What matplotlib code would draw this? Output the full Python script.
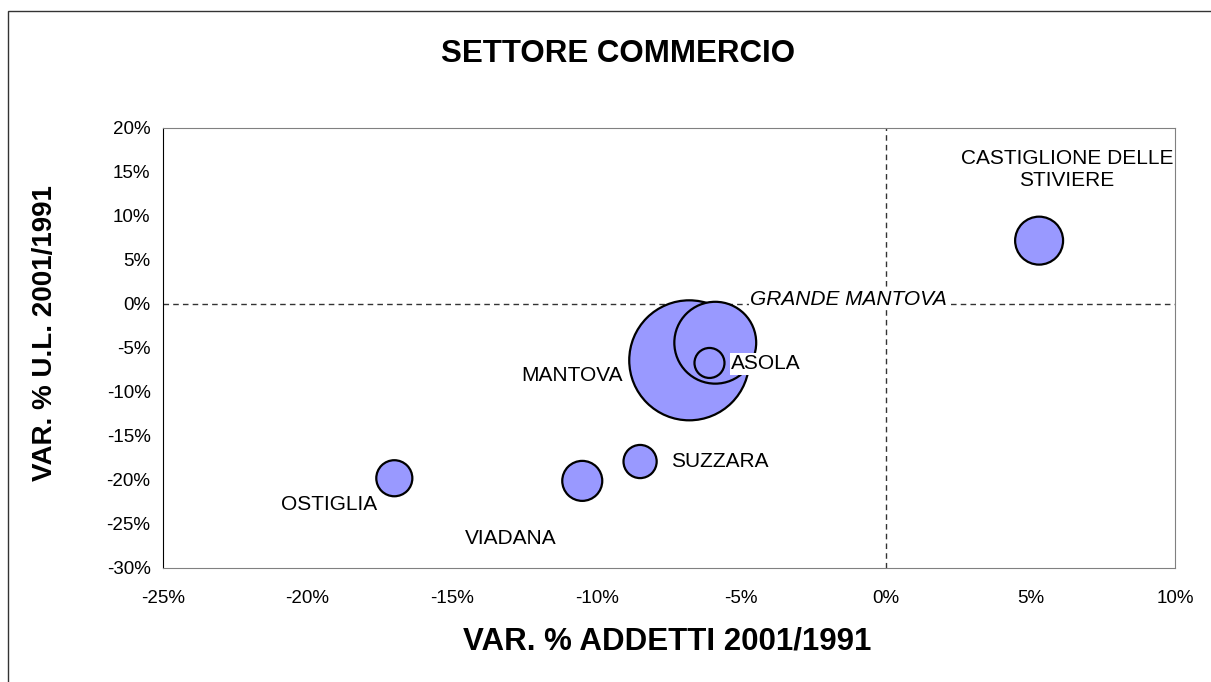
import matplotlib.pyplot as plt
from matplotlib.patches import Rectangle
from matplotlib.ticker import FuncFormatter

plt.rcParams['font.family'] = ['Liberation Sans', 'DejaVu Sans']

# dati (var. % addetti, var. % unita' locali, dimensione bolla)
comuni = ['MANTOVA', 'GRANDE MANTOVA', 'ASOLA', 'CASTIGLIONE DELLE\nSTIVIERE',
          'OSTIGLIA', 'VIADANA', 'SUZZARA']
var_addetti = [-6.8, -5.9, -6.1, 5.3, -17.0, -10.5, -8.5]
var_ul = [-6.4, -4.4, -6.7, 7.2, -19.8, -20.1, -17.9]
dimensione = [144, 67, 9, 23, 13, 16, 11]

# posizione delle etichette (coordinate dati)
lab_x = [-9.1, -4.7, -5.35, 6.27, -19.26, -12.96, -7.43]
lab_y = [-8.1, 0.55, -6.8, 15.3, -22.8, -26.6, -17.95]
lab_ha = ['right', 'left', 'left', 'center', 'center', 'center', 'left']

fig = plt.figure(figsize=(12.11, 6.82), dpi=100)
ax = fig.add_axes([163/1211, 1 - 568/682, (1175-163)/1211, (568-128)/682])

ax.axhline(0, color='#333333', lw=1, ls=(0, (4, 3)), zorder=1)
ax.axvline(0, color='#333333', lw=1, ls=(0, (4, 3)), zorder=1)

ax.scatter(var_addetti, var_ul, s=[d * 51.84 for d in dimensione],
           c='#9999FF', edgecolors='black', linewidths=1.6, zorder=3)

for i in range(len(comuni)):
    bbox = None
    if comuni[i] in ('GRANDE MANTOVA', 'ASOLA'):
        bbox = dict(facecolor='white', edgecolor='none', pad=1)
    ax.text(lab_x[i], lab_y[i], comuni[i], ha=lab_ha[i], va='center',
            fontsize=15, linespacing=1.2,
            style='italic' if comuni[i] == 'GRANDE MANTOVA' else 'normal',
            bbox=bbox, zorder=4)

ax.set_xlim(-25, 10)
ax.set_ylim(-30, 20)
ax.set_xticks(range(-25, 11, 5))
ax.set_yticks(range(-30, 21, 5))
ax.xaxis.set_major_formatter(FuncFormatter(lambda v, p: '%d%%' % v))
ax.yaxis.set_major_formatter(FuncFormatter(lambda v, p: '%d%%' % v))
ax.tick_params(axis='x', length=0, pad=16, labelsize=13.5)
ax.tick_params(axis='y', length=0, pad=9, labelsize=13.5)

for side in ['top', 'right', 'bottom']:
    ax.spines[side].set_color('#808080')
ax.spines['left'].set_color('black')

fig.text(618/1211, 1 - 54/682, 'SETTORE COMMERCIO', ha='center', va='center',
         fontsize=22.5, fontweight='bold')
fig.text(667/1211, 1 - 641/682, 'VAR. % ADDETTI 2001/1991', ha='center', va='center',
         fontsize=22.5, fontweight='bold')
fig.text(45/1211, 1 - 333/682, 'VAR. % U.L. 2001/1991', ha='center', va='center',
         fontsize=20, fontweight='bold', rotation=90)

# cornice esterna del grafico
fig.patches.append(Rectangle((8/1211, -0.1), 1.2, 1.1 - 11/682, transform=fig.transFigure,
                             fill=False, edgecolor='#333333', lw=1))

fig.savefig('out.png', dpi=100)
